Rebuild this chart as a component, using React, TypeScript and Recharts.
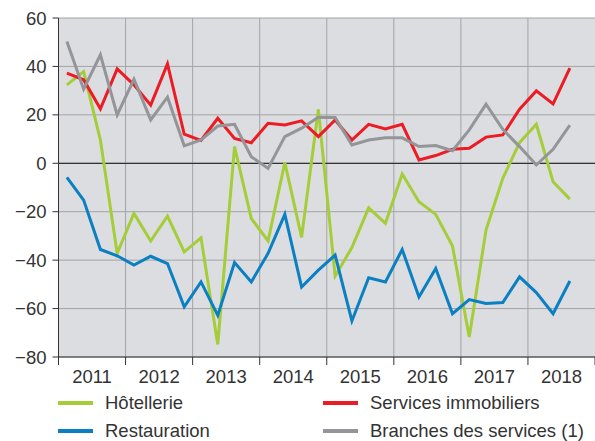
import React from "react"
import {
  LineChart,
  Line,
  XAxis,
  YAxis,
  CartesianGrid,
  ReferenceLine,
} from "recharts"

// quarterly, 2011 Q1 .. 2018 Q3
const hotellerie = [
  32.4, 37.9, 9.6, -37.2, -20.7, -32.1, -21.8, -36.6, -30.8, -74.8, 6.9,
  -22.8, -32.1, 0.3, -30.6, 22.3, -46.6, -34.8, -18.4, -24.8, -4.4, -15.9,
  -21.1, -34.2, -71.7, -27.6, -6.2, 8.5, 16.1, -7.6, -14.8,
]
const restauration = [
  -5.8, -15.2, -35.6, -38.2, -42, -38.4, -41.4, -59.3, -49, -62.8, -41,
  -49, -37.2, -21.1, -51.1, -44.1, -37.9, -65.1, -47.3, -49, -35.6, -55.2,
  -43.4, -62.1, -56.3, -57.9, -57.5, -46.9, -53.4, -62.1, -48.6,
]
const immobiliers = [
  37.2, 34.5, 22.5, 39, 32.4, 24, 41, 12, 9.4, 18.6, 10.3, 8.5, 16.5, 15.8,
  17.5, 11, 17.9, 9.6, 16.1, 14.2, 16.1, 1.4, 3.2, 5.8, 6.2, 10.8, 11.7,
  22.3, 29.9, 24.5, 39.3,
]
const branches = [
  50.3, 30.6, 44.8, 20, 34.7, 17.9, 27.3, 7.2, 9.6, 15.4, 16.1, 2.7, -2.1,
  11, 14.5, 19, 18.9, 7.6, 9.6, 10.5, 10.5, 6.9, 7.3, 5.2, 13.8, 24.4, 14,
  6.9, -0.7, 5.8, 15.8,
]
const years = [2011, 2012, 2013, 2014, 2015, 2016, 2017, 2018]
const yTicks = [-80, -60, -40, -20, 0, 20, 40, 60]

const series = [
  { key: "hot", name: "Hôtellerie", color: "#a5cd39", col: 0, row: 0 },
  { key: "res", name: "Restauration", color: "#0a7fc2", col: 0, row: 1 },
  { key: "imm", name: "Services immobiliers", color: "#ec1c24", col: 1, row: 0 },
  { key: "bra", name: "Branches des services (1)", color: "#939598", col: 1, row: 1 },
]

const data = hotellerie.map((v, i) => ({
  q: i + 0.5,
  hot: v,
  res: restauration[i],
  imm: immobiliers[i],
  bra: branches[i],
}))

const xTicks = Array.from({ length: 17 }, (_, i) => i * 2)
const boundaries = xTicks.filter((t) => t % 4 === 0 && t > 0 && t < 32)

const TICK_SIZE = 8
const TICK_MARGIN = 5
const FONT = 18.5
const textColor = "#333"

const XTick = (props: any) => {
  const { x, y, payload } = props
  const v = payload.value
  if (v % 4 === 0) {
    return (
      <line
        x1={x}
        x2={x}
        y1={y - TICK_SIZE - TICK_MARGIN}
        y2={y - TICK_MARGIN}
        stroke="#333"
        strokeWidth={1}
      />
    )
  }
  return (
    <text
      x={x}
      y={y}
      dy="0.71em"
      textAnchor="middle"
      fill={textColor}
      fontSize={FONT}
    >
      {years[Math.floor(v / 4)]}
    </text>
  )
}

const Legend2 = () => (
  <div style={{ position: "absolute", left: 0, top: 0, width: 595, height: 441, pointerEvents: "none" }}>
    {series.map((s) => {
      const left = s.col === 0 ? 58 : 323
      const top = s.row === 0 ? 403 : 431
      return (
        <div key={s.key}>
          <div
            style={{
              position: "absolute",
              left,
              top: top - 2,
              width: 35,
              height: 4,
              background: s.color,
            }}
          />
          <div
            style={{
              position: "absolute",
              left: left + 47,
              top: top - 12,
              fontSize: FONT,
              lineHeight: "24px",
              color: textColor,
              whiteSpace: "nowrap",
            }}
          >
            {s.name}
          </div>
        </div>
      )
    })}
  </div>
)

export default function App() {
  return (
    <div
      style={{
        position: "absolute",
        left: 0,
        top: 0,
        width: 595,
        height: 441,
        background: "#fff",
        fontFamily: "'Liberation Sans', Arial, sans-serif",
      }}
    >
      <LineChart
        width={595}
        height={441}
        data={data}
        margin={{ top: 18, right: 0, left: 0, bottom: 54 }}
      >
        <CartesianGrid
          vertical={false}
          stroke="#a3a4a6"
          fill="#dcdde0"
          strokeWidth={1}
        />
        <XAxis
          dataKey="q"
          type="number"
          domain={[0, 32]}
          ticks={xTicks}
          interval={0}
          height={30}
          tickLine={false}
          tickSize={TICK_SIZE}
          tickMargin={TICK_MARGIN}
          axisLine={{ stroke: "#333" }}
          tick={<XTick />}
        />
        <YAxis
          type="number"
          domain={[-80, 60]}
          ticks={yTicks}
          interval={0}
          width={58.5}
          tickSize={6}
          tickMargin={6}
          axisLine={{ stroke: "#333" }}
          tickLine={{ stroke: "#333" }}
          tick={{ fill: textColor, fontSize: FONT }}
          tickFormatter={(v: number) => (v < 0 ? `\u2212${-v}` : `${v}`)}
        />
        {boundaries.map((b) => (
          <ReferenceLine key={b} x={b} stroke="#a3a4a6" strokeWidth={1} />
        ))}
        <ReferenceLine y={0} stroke="#333" strokeWidth={1.2} />
        {series.map((s) => (
          <Line
            key={s.key}
            dataKey={s.key}
            name={s.name}
            stroke={s.color}
            strokeWidth={3}
            dot={false}
            activeDot={false}
            isAnimationActive={false}
            type="linear"
          />
        ))}
      </LineChart>
      <Legend2 />
    </div>
  )
}
